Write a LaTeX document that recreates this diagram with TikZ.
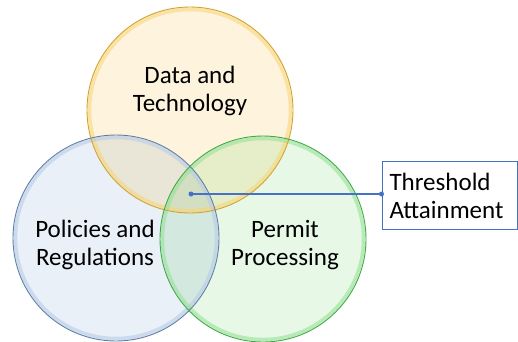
\documentclass[tikz,border=0pt]{standalone}
\usepackage{fontspec}
\setmainfont{Carlito}
\begin{document}
\begin{tikzpicture}[x=1pt,y=-1pt,
  lbl/.style={font=\fontsize{25}{28}\selectfont, align=center, text=black},
  venn/.style={circle, minimum size=206pt, inner sep=0pt},
  link/.style={draw=lineblue, line width=1.2pt},
  dotend/.style={circle, fill=lineblue, inner sep=0pt, minimum size=5pt}]
\definecolor{ylfill}{HTML}{FEF4DE}
\definecolor{yledge}{HTML}{D4A12A}
\definecolor{ylglow}{HTML}{F6D77A}
\definecolor{blfill}{HTML}{EAF0F8}
\definecolor{bledge}{HTML}{5F7FA6}
\definecolor{blglow}{HTML}{B7CCE6}
\definecolor{grfill}{HTML}{E7F8E7}
\definecolor{gredge}{HTML}{3DAA45}
\definecolor{grglow}{HTML}{9AE29A}
\definecolor{lineblue}{HTML}{4472C4}
\useasboundingbox (0,0) rectangle (518,341);
\fill[white] (0,0) rectangle (518,341);
\begin{scope}[blend group=multiply]
  \fill[ylfill] (190,110) circle (102.5);
  \fill[blfill] (116,238) circle (102.5);
  \fill[grfill] (263,239) circle (102.5);
\end{scope}
% glows
\draw[ylglow, line width=3.5pt, opacity=0.6] (190,110) circle (100.5);
\draw[blglow, line width=3.5pt, opacity=0.6] (116,238) circle (100.5);
\draw[grglow, line width=3.5pt, opacity=0.6] (263,239) circle (100.5);
% outlines
\node[venn, draw=yledge, line width=0.9pt] (data) at (190,110) {};
\node[venn, draw=bledge, line width=0.9pt] (policy) at (116,238) {};
\node[venn, draw=gredge, line width=0.9pt] (permit) at (263,239) {};
% labels
\node[lbl] (datalbl) at (190,91) {Data and\\Technology};
\node[lbl] (policylbl) at (95,245) {Policies and\\Regulations};
\node[lbl] (permitlbl) at (285,245) {Permit\\Processing};
% threshold box
\node[draw=lineblue, line width=1pt, minimum width=135pt, minimum height=68pt, inner sep=0pt] (box) at (449.5,195) {};
\node[lbl, align=left, anchor=west] (boxtxt) at (386,196) {Threshold\\Attainment};
\node[dotend] (center) at (191,194) {};
\coordinate (boxin) at (box.west |- center);
\node[dotend] (boxdot) at (boxin) {};
\draw[link] (center.center) -- (boxdot.center);
\end{tikzpicture}
\end{document}
